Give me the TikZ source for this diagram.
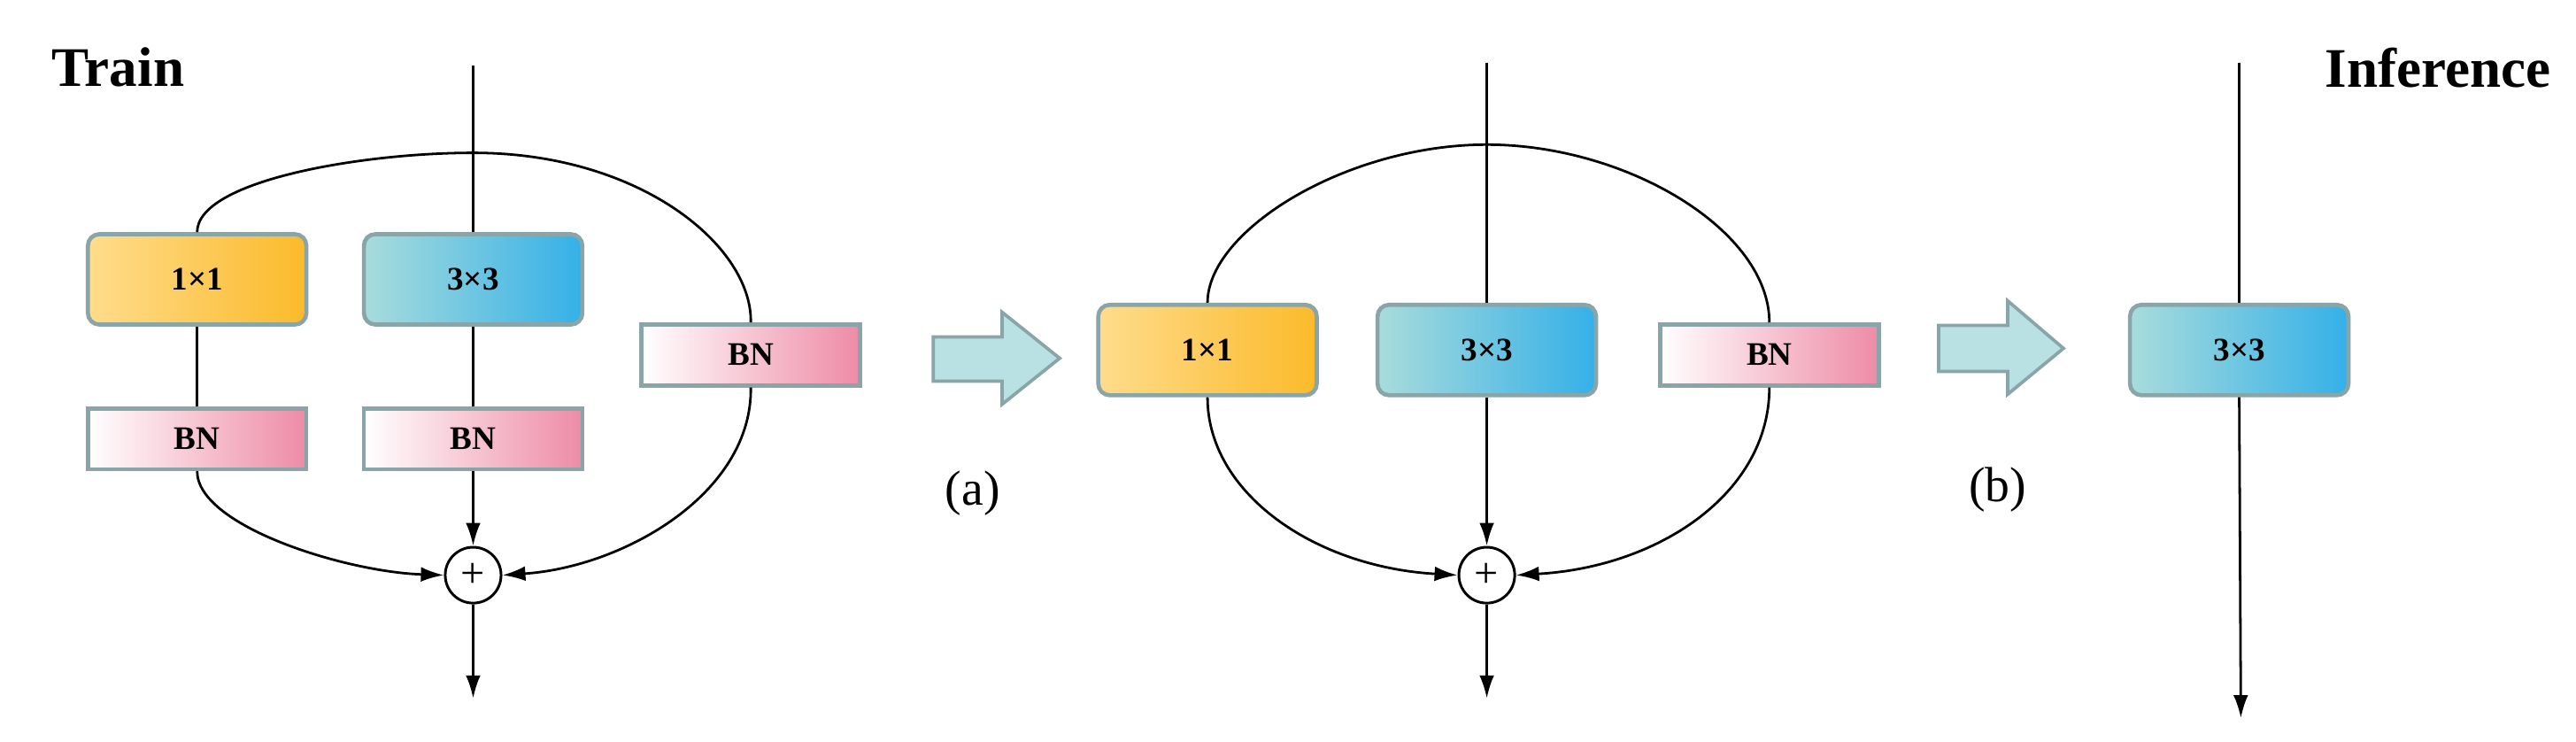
\documentclass[tikz,border=0pt]{standalone}
\usepackage{fontspec}
\setmainfont{Liberation Serif}
\usetikzlibrary{arrows.meta,shapes.geometric}
\definecolor{bord}{HTML}{8AA5A8}
\definecolor{yl}{HTML}{FFDC8C}\definecolor{yr}{HTML}{FBBA2A}
\definecolor{bl}{HTML}{A8DCDC}\definecolor{br}{HTML}{34B0E8}
\definecolor{pl}{HTML}{FFFFFF}\definecolor{pr}{HTML}{EE8BA6}
\definecolor{arr}{HTML}{B9E0E3}
\begin{document}
\begin{tikzpicture}[x=1pt,y=-1pt,
  box/.style={draw=bord,line width=2.5pt,minimum height=55pt,minimum width=133pt,rounded corners=7pt,font=\fontsize{20}{20}\selectfont\bfseries,inner sep=0pt},
  one/.style={box,left color=yl,right color=yr},
  three/.style={box,left color=bl,right color=br},
  bn/.style={box,rounded corners=0pt,minimum height=37pt,left color=pl,right color=pr},
  plus/.style={circle,draw,line width=1.6pt,minimum size=34pt,inner sep=0pt},
  ln/.style={line width=1.5pt},
  ar/.style={ln,-{Latex[length=14pt,width=9pt]}},
  blk/.style={draw=bord,line width=2pt,fill=arr}]
\useasboundingbox (0,0) rectangle (1568,451);
\node[font=\fontsize{34}{34}\selectfont\bfseries,anchor=west] (train) at (28,41) {Train};
\node[font=\fontsize{34}{34}\selectfont\bfseries,anchor=east] (inf) at (1556,41) {Inference};
% left
\coordinate (lin) at (288,40);
\node[one] (a1) at (120,170) {1×1};
\node[three] (a3) at (288,170) {3×3};
\node[bn] (abn1) at (120,267) {BN};
\node[bn] (abn2) at (288,267) {BN};
\node[bn] (abn3) at (457,216) {BN};
\node[plus] (ap) at (288,350) {\fontsize{26}{26}\selectfont +};
\coordinate (aout) at (288,425);
\draw[ln] (lin) -- (a3.north);
\draw[ln] (a3.south) -- (abn2.north);
\draw[ln] (a1.south) -- (abn1.north);
\draw[ln] (a1.north) .. controls (120,110) and (220,93) .. (288,93) .. controls (390,93) and (458,150) .. (abn3.north);
\draw[ar] (abn2.south) -- (ap.north);
\draw[ar] (abn1.south) .. controls (120,320) and (210,348) .. (ap.west);
\draw[ar] (abn3.south) .. controls (458,300) and (380,345) .. (ap.east);
\draw[ar] (ap.south) -- (aout);
% arrow a
\draw[blk] (568,205) -- (610,205) -- (610,190) -- (645,218) -- (610,246) -- (610,232) -- (568,232) -- cycle;
\node[font=\fontsize{30}{30}\selectfont] (la) at (592,300) {(a)};
% middle
\coordinate (bin) at (905,38);
\node[one] (b1) at (735,213) {1×1};
\node[three] (b3) at (905,213) {3×3};
\node[bn] (bbn) at (1077,216) {BN};
\node[plus] (bp) at (905,350) {\fontsize{26}{26}\selectfont +};
\coordinate (bout) at (905,425);
\draw[ln] (bin) -- (b3.north);
\draw[ln] (b1.north) .. controls (735,140) and (820,88) .. (905,88) .. controls (990,88) and (1077,140) .. (bbn.north);
\draw[ar] (b3.south) -- (bp.north);
\draw[ar] (b1.south) .. controls (735,300) and (800,345) .. (bp.west);
\draw[ar] (bbn.south) .. controls (1077,300) and (1010,345) .. (bp.east);
\draw[ar] (bp.south) -- (bout);
% arrow b
\draw[blk] (1180,198) -- (1222,198) -- (1222,183) -- (1256,212) -- (1222,240) -- (1222,226) -- (1180,226) -- cycle;
\node[font=\fontsize{30}{30}\selectfont] (lb) at (1216,298) {(b)};
% right
\coordinate (cin) at (1363,38);
\node[three] (c3) at (1363,213) {3×3};
\coordinate (cout) at (1364,437);
\draw[ln] (cin) -- (c3.north);
\draw[ar] (c3.south) -- (cout);
\end{tikzpicture}
\end{document}
